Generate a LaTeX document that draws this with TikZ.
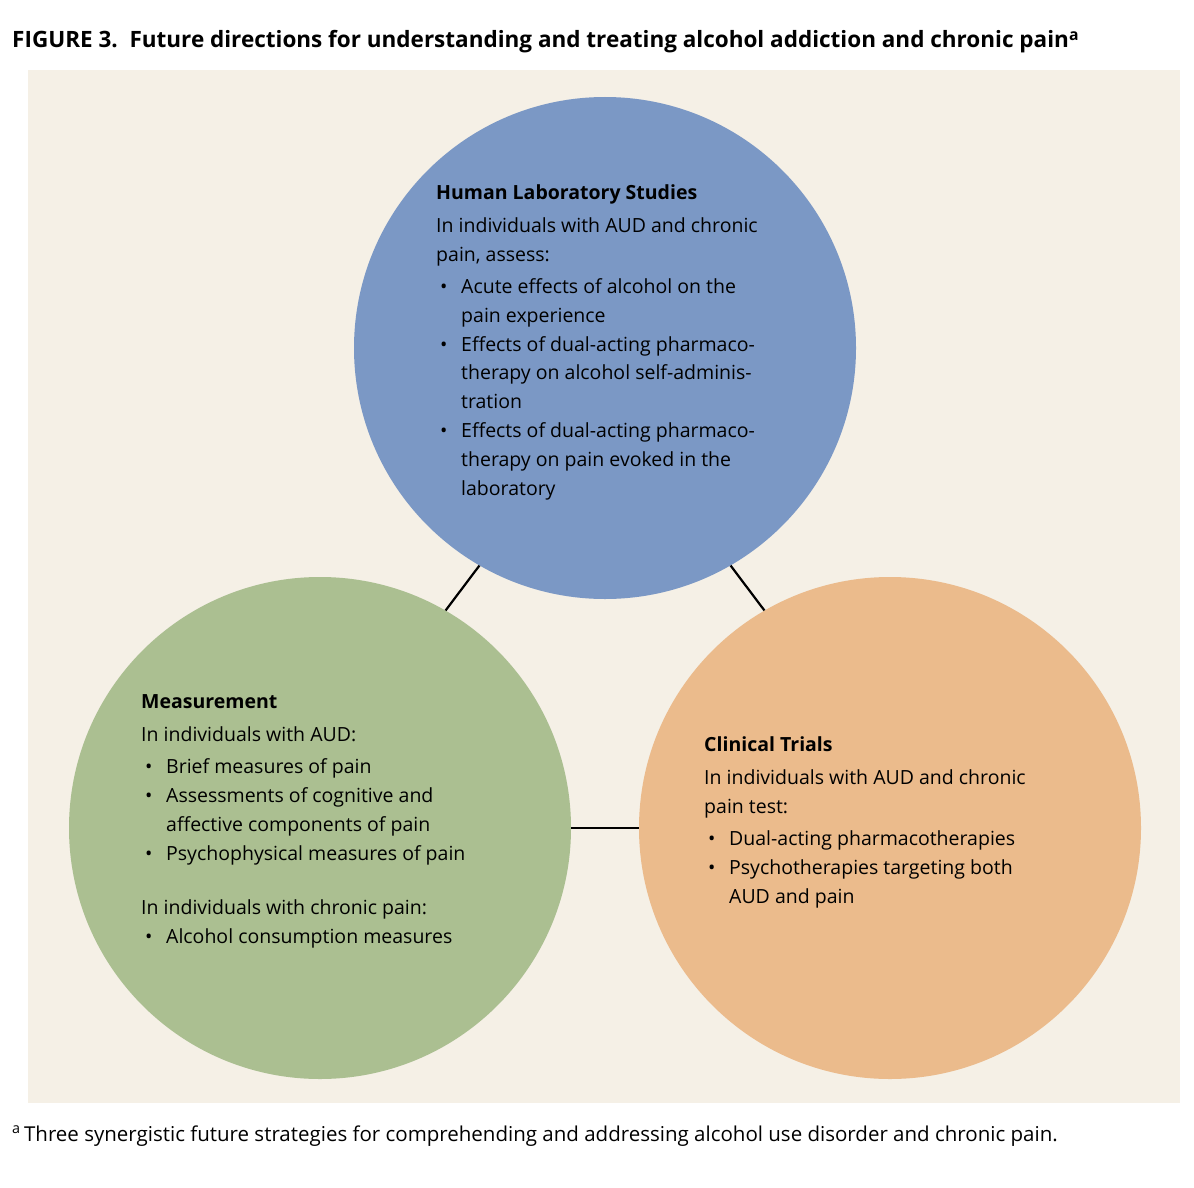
\documentclass[tikz,border=0pt]{standalone}
\usepackage{fontspec}
\setmainfont{Open Sans}
\definecolor{bgc}{HTML}{F5F0E6}
\definecolor{bluec}{HTML}{7B98C5}
\definecolor{greenc}{HTML}{ABBF91}
\definecolor{orangec}{HTML}{EBBB8C}
\newcommand{\bl}{\makebox[25pt][l]{\hspace{4pt}•}}
\newcommand{\ind}{\hspace*{25pt}}
\tikzset{circ/.style={circle,minimum size=502pt,inner sep=0pt},
 txt/.style={anchor=north west,align=left,inner sep=0pt,font=\fontsize{19.5}{28.8}\selectfont},
 conn/.style={line width=2.2pt,black}}
\begin{document}
\begin{tikzpicture}[x=1pt,y=-1pt]
\useasboundingbox (0,0) rectangle (1194,1188);
\fill[bgc] (28,70) rectangle (1180,1103);
\node[anchor=base west,inner sep=0pt,font=\fontsize{22.5}{26}\selectfont\bfseries] (title) at (12,48) {FIGURE 3.\ \ Future directions for understanding and treating alcohol addiction and chronic pain\textsuperscript{a}};
\node[circ,fill=bluec] (hl) at (605,348) {};
\node[circ,fill=greenc] (me) at (320,828) {};
\node[circ,fill=orangec] (ct) at (890,828) {};
\draw[conn] (hl.240) -- (me.60);
\draw[conn] (hl.300) -- (ct.120);
\draw[conn] (me.east) -- (ct.west);
\node[txt] (t1) at (436,184) {\textbf{Human Laboratory Studies}\\[5pt]
In individuals with AUD and chronic\\
pain, assess:\\[3pt]
\bl Acute effects of alcohol on the\\
\ind pain experience\\
\bl Effects of dual-acting pharmaco-\\
\ind therapy on alcohol self-adminis-\\
\ind tration\\
\bl Effects of dual-acting pharmaco-\\
\ind therapy on pain evoked in the\\
\ind laboratory};
\node[txt] (t2) at (141,694) {\textbf{Measurement}\\[5pt]
In individuals with AUD:\\[3pt]
\bl Brief measures of pain\\
\bl Assessments of cognitive and\\
\ind affective components of pain\\
\bl Psychophysical measures of pain\\[26pt]
In individuals with chronic pain:\\
\bl Alcohol consumption measures};
\node[txt] (t3) at (704,736) {\textbf{Clinical Trials}\\[5pt]
In individuals with AUD and chronic\\
pain test:\\[3pt]
\bl Dual-acting pharmacotherapies\\
\bl Psychotherapies targeting both\\
\ind AUD and pain};
\node[anchor=base west,inner sep=0pt,font=\fontsize{20.5}{24}\selectfont] (fn) at (12,1141) {\textsuperscript{a}\,Three synergistic future strategies for comprehending and addressing alcohol use disorder and chronic pain.};
\end{tikzpicture}
\end{document}
